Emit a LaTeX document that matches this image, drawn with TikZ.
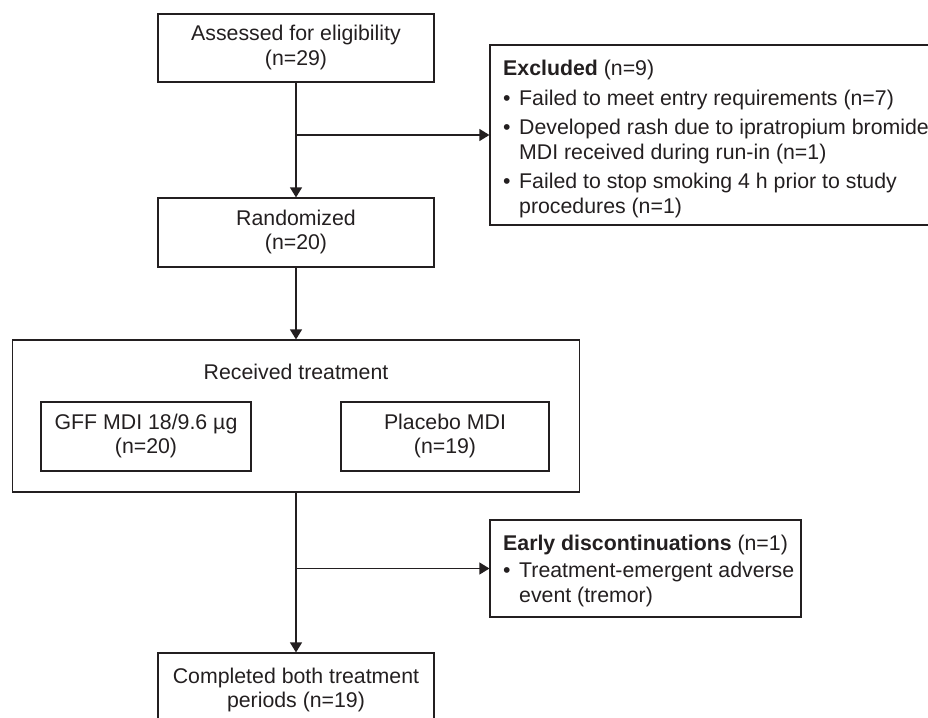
\documentclass[tikz,border=0pt]{standalone}
\usepackage{fontspec}
\setmainfont{Liberation Sans}
\usetikzlibrary{arrows.meta}
\definecolor{ink}{RGB}{35,31,32}
\newcommand\diagfont{\fontsize{21.3}{24.5}\selectfont}
\begin{document}
\begin{tikzpicture}[x=1pt,y=-1pt,
  box/.style={draw=ink, line width=1.2pt, rectangle, inner sep=0pt, text=ink, font=\diagfont},
  txt/.style={inner sep=0pt, text=ink, font=\diagfont},
  arr/.style={draw=ink, line width=1.2pt, -{Triangle[length=10pt,width=12pt]}}]
\useasboundingbox (0,0) rectangle (928,717);
\clip (0,0) rectangle (928,717);

\node[box, minimum width=276pt, minimum height=68pt] (assess) at (296,48)
  {\begin{tabular}{@{}c@{}}Assessed for eligibility\\(n=29)\end{tabular}};
\node[box, minimum width=276pt, minimum height=69pt] (rand) at (296,232.5)
  {\begin{tabular}{@{}c@{}}Randomized\\(n=20)\end{tabular}};
\node[box, minimum width=567pt, minimum height=152pt] (recv) at (296,416) {};
\node[txt] (recvlbl) at (296,372) {Received treatment};
\node[box, minimum width=210pt, minimum height=69pt] (gff) at (146,436.5)
  {\begin{tabular}{@{}c@{}}GFF MDI 18/9.6 µg\\(n=20)\end{tabular}};
\node[box, minimum width=208pt, minimum height=69pt] (plac) at (445,436.5)
  {\begin{tabular}{@{}c@{}}Placebo MDI\\(n=19)\end{tabular}};
\node[box, minimum width=276pt, minimum height=75pt] (comp) at (296,690.5)
  {\begin{tabular}{@{}c@{}}Completed both treatment\\periods (n=19)\end{tabular}};

\node[box, minimum width=455pt, minimum height=180pt] (excl) at (717.5,135) {};
\node[txt, anchor=base west] (excltxt) at (503,75.5)
  {\begin{tabular}[t]{@{}p{16pt}@{}l@{}}
   \multicolumn{2}{@{}l@{}}{\textbf{Excluded} (n=9)}\\[5pt]
   \textbullet & Failed to meet entry requirements (n=7)\\[5pt]
   \textbullet & Developed rash due to ipratropium bromide\\
               & MDI received during run-in (n=1)\\[5pt]
   \textbullet & Failed to stop smoking 4 h prior to study\\
               & procedures (n=1)
   \end{tabular}};

\node[box, minimum width=311pt, minimum height=97pt] (early) at (645.5,568.5) {};
\node[txt, anchor=base west] (earlytxt) at (503,550.5)
  {\begin{tabular}[t]{@{}p{16pt}@{}l@{}}
   \multicolumn{2}{@{}l@{}}{\textbf{Early discontinuations} (n=1)}\\[2.5pt]
   \textbullet & Treatment-emergent adverse\\
               & event (tremor)
   \end{tabular}};

\draw[arr] (assess.south) -- (rand.north);
\draw[arr] (assess.south |- excl.west) -- (excl.west);
\draw[arr] (rand.south) -- (recv.north);
\draw[arr] (recv.south) -- (comp.north);
\draw[arr] (recv.south |- early.west) -- (early.west);
\end{tikzpicture}
\end{document}
